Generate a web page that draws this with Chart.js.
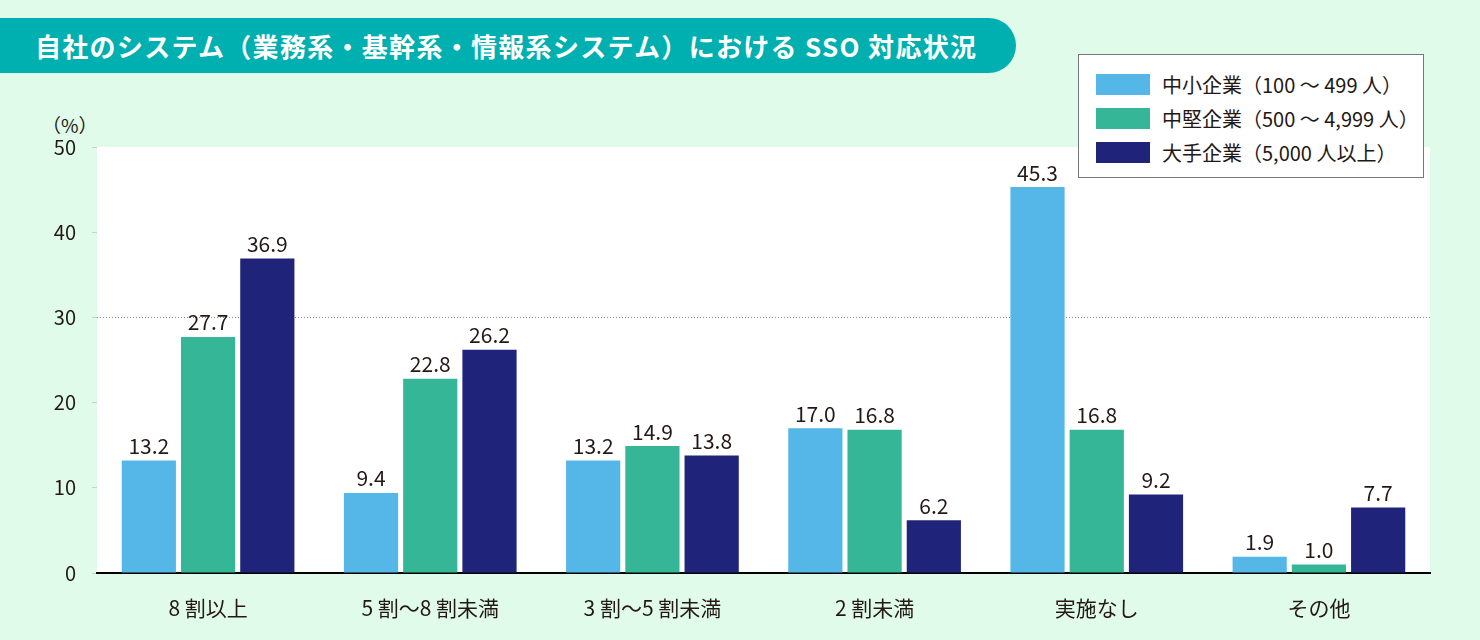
<!DOCTYPE html>
<html>
<head>
<meta charset="utf-8">
<script src="https://cdn.jsdelivr.net/npm/chart.js@4.4.1/dist/chart.umd.min.js"></script>
<style>
	html, body { margin: 0; padding: 0; }
	body { width: 1480px; height: 640px; background: #e0fbea; position: relative; overflow: hidden;
		font-family: "Noto Sans CJK JP", "Noto Sans", sans-serif; color: #231815; }
	#title { position: absolute; left: 0; top: 18px; width: 1016px; height: 55px; background: #00afb0;
		border-radius: 0 28px 28px 0; color: #fff; font-weight: bold; font-size: 26px; line-height: 55px;
		box-sizing: border-box; padding-left: 35px; white-space: nowrap; letter-spacing: 1.3px; }
	#unit { position: absolute; left: 42px; top: 111px; font-size: 19px; }
	#legend { position: absolute; left: 1078px; top: 54px; width: 346px; height: 124px; background: #fff;
		border: 1px solid #777; box-sizing: border-box; padding-top: 12px; }
	#legend .row { height: 34px; display: flex; align-items: center; font-size: 20px; }
	#legend .sw { width: 54px; height: 21px; margin-left: 17px; margin-right: 12px; }
	#wrap { position: absolute; left: 0; top: 0; width: 1480px; height: 640px; }
</style>
</head>
<body>
<div id="title">自社のシステム（業務系・基幹系・情報系システム）における SSO 対応状況</div>
<div id="unit">（%）</div>
<div id="wrap"><canvas id="main-chart"></canvas></div>
<div id="legend"></div>
<script>
// categories and series
var categories = ['8 割以上', '5 割～8 割未満', '3 割～5 割未満', '2 割未満', '実施なし', 'その他'];
var seriesNames = ['中小企業（100 ～ 499 人）', '中堅企業（500 ～ 4,999 人）', '大手企業（5,000 人以上）'];
var small = [13.2, 9.4, 13.2, 17.0, 45.3, 1.9];
var middle = [27.7, 22.8, 14.9, 16.8, 16.8, 1.0];
var large = [36.9, 26.2, 13.8, 6.2, 9.2, 7.7];
var yTicks = [0, 10, 20, 30, 40, 50];

var colors = ['#55b7e8', '#35b697', '#1f247a'];
var textColor = '#231815';
var font = '"Noto Sans CJK JP", "Noto Sans", sans-serif';

// white plot area
var plotBg = {
	id: 'plotBg',
	beforeDraw(chart) {
		var a = chart.chartArea, ctx = chart.ctx;
		ctx.save();
		ctx.fillStyle = '#ffffff';
		ctx.fillRect(a.left, a.top, a.right - a.left, a.bottom - a.top);
		ctx.restore();
	}
};

// value labels above bars
var valueLabels = {
	id: 'valueLabels',
	afterDatasetsDraw(chart) {
		var ctx = chart.ctx;
		ctx.save();
		ctx.font = '21px ' + font;
		ctx.fillStyle = textColor;
		ctx.textAlign = 'center';
		ctx.textBaseline = 'bottom';
		chart.data.datasets.forEach(function(ds, i) {
			chart.getDatasetMeta(i).data.forEach(function(bar, j) {
				ctx.fillText(ds.data[j].toFixed(1), bar.x, bar.y - 4);
			});
		});
		ctx.restore();
	}
};

var datasets = [small, middle, large].map(function(vals, i) {
	return {
		label: seriesNames[i],
		data: vals,
		backgroundColor: colors[i],
		categoryPercentage: 0.8,
		barPercentage: 0.915
	};
});

var ctx = document.getElementById('main-chart');
var chart = new Chart(ctx, {
	type: 'bar',
	data: { labels: categories, datasets: datasets },
	options: {
		responsive: true,
		maintainAspectRatio: false,
		animation: false,
		layout: { padding: { left: 0, right: 50, top: 147, bottom: 0 } },
		plugins: { legend: { display: false }, tooltip: { enabled: false } },
		scales: {
			x: {
				grid: { display: false },
				border: { display: true, color: '#000000', width: 2 },
				ticks: { color: textColor, font: { family: font, size: 21 }, padding: 14 },
				afterFit(scale) { scale.height = 67; }
			},
			y: {
				min: 0,
				max: 50,
				afterBuildTicks(scale) { scale.ticks = yTicks.map(function(v) { return { value: v }; }); },
				grid: {
					color(c) { return c.tick && c.tick.value === 30 ? '#8a8a8a' : 'rgba(0,0,0,0)'; },
					tickColor: '#cccccc',
					tickLength: 5,
					lineWidth: 1
				},
				border: { display: false, dash: [1, 2] },
				ticks: { color: textColor, font: { family: font, size: 20 }, padding: 16 },
				afterFit(scale) { scale.width = 97; }
			}
		}
	},
	plugins: [plotBg, valueLabels]
});

// legend box
var legend = document.getElementById('legend');
seriesNames.forEach(function(name, i) {
	var row = document.createElement('div');
	row.className = 'row';
	row.innerHTML = '<div class="sw" style="background:' + colors[i] + '"></div><span>' + name + '</span>';
	legend.appendChild(row);
});
</script>
</body>
</html>
